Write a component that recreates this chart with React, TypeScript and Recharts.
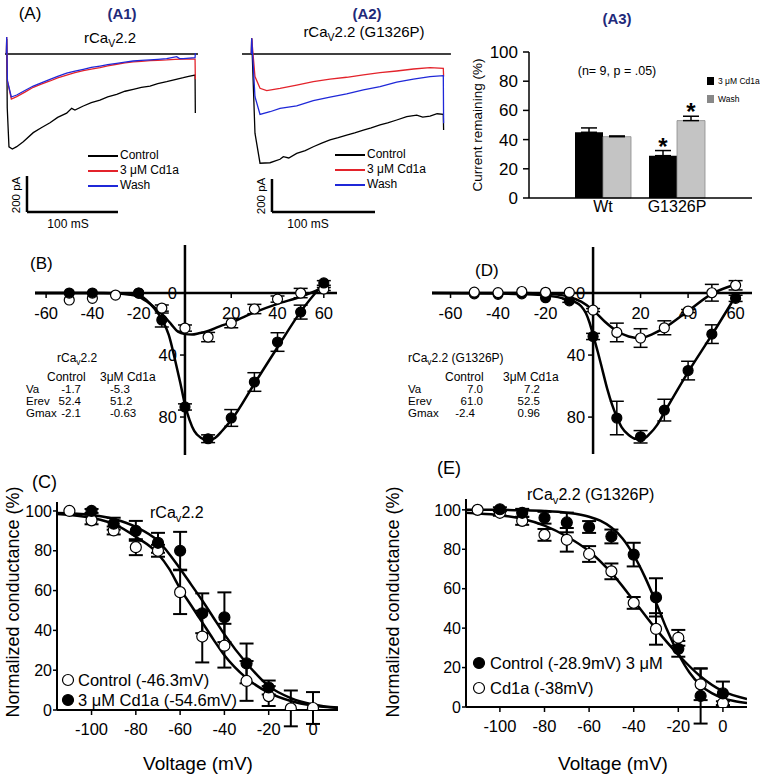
import React from "react";
import {
  ComposedChart,
  LineChart,
  Line,
  Scatter,
  ErrorBar,
  XAxis,
  YAxis,
  ReferenceLine,
  ReferenceDot,
  BarChart,
  Bar,
} from "recharts";

const FONT = '"Liberation Sans", Arial, Helvetica, sans-serif';
const NAVY = "#1f2a7a";
const RED = "#e3232b";
const BLUE = "#1f28d8";

// (A1) rCaV2.2 traces, [ms, pA]
const A1_CONTROL = [[-0.3, 0], [0, 83], [0.6, -300], [2.5, -516], [6.2, -528], [11, -515], [18.2, -487], [29.2, -437], [38, -410], [47.6, -382], [56, -352], [65.9, -329], [71.4, -302], [75, -311], [84.2, -289], [93, -270], [102.5, -256], [111, -238], [120.9, -224], [130, -207], [139.1, -196], [148, -186], [157.5, -178], [166, -165], [175.8, -154], [185, -142], [194.1, -132], [200, -124], [207, -117], [207.3, -328]];
const A1_CD1A = [[-0.3, 0], [0, 94], [0.8, -150], [5.1, -250], [11, -237], [20, -212], [29.2, -185], [38, -168], [47.6, -150], [56, -133], [65.9, -117], [75, -104], [84.2, -93], [93, -84], [102.5, -76], [111, -66], [120.9, -57], [130, -50], [139.1, -44], [148, -41], [157.5, -37], [166, -35], [175.8, -33], [185, -30], [194.1, -28], [207, -29], [207.3, -140]];
const A1_WASH = [[-0.3, 0], [0, 94], [0.8, -150], [5.1, -239], [11, -228], [20, -203], [29.2, -178], [38, -160], [47.6, -141], [56, -124], [65.9, -107], [75, -95], [84.2, -85], [93, -75], [102.5, -67], [111, -59], [120.9, -52], [130, -45], [139.1, -39], [148, -36], [157.5, -33], [166, -30], [175.8, -26], [186.8, -15], [190, -26], [194.1, -26], [207, -21], [207.3, 5]];

// (A2) rCaV2.2 (G1326P) traces, [ms, pA]
const A2_CONTROL = [[-0.3, 0], [0, 95], [3.2, -480], [8.1, -662], [17.8, -659], [27.5, -638], [30.7, -622], [36, -630], [43.7, -602], [52, -585], [59.8, -562], [68, -540], [76, -521], [84, -507], [92.2, -491], [100, -478], [108.4, -461], [116, -448], [124.6, -430], [132, -418], [140.8, -400], [150.5, -380], [160.2, -370], [166, -382], [173.1, -376], [180, -362], [186, -366], [186.3, -461]];
const A2_CD1A = [[-0.3, 0], [0, 95], [3.2, -137], [8.1, -208], [14.6, -222], [27.5, -208], [43.7, -188], [59.8, -168], [76, -152], [92.2, -141], [108.4, -127], [124.6, -113], [140.8, -103], [157, -91], [173.1, -83], [186, -87], [186.3, -137]];
const A2_WASH = [[-0.3, 0], [0, 95], [3.2, -259], [8.1, -366], [17.8, -350], [27.5, -329], [43.7, -315], [59.8, -283], [76, -262], [92.2, -242], [108.4, -218], [124.6, -198], [140.8, -171], [157, -152], [173.1, -137], [186, -131], [186.3, -420]];

// (A3) current remaining (%)
const A3_GROUPS = ["Wt", "G1326P"];
const A3_CD1A = [45, 29];
const A3_WASH = [42, 53];
const A3_CD1A_ERR = [3, 3.5];
const A3_WASH_ERR = [0.5, 3];
const A3_CD1A_STAR = [false, true];
const A3_WASH_STAR = [false, true];

// (B) I-V rCaV2.2, [mV, % current, err]
const B_CONTROL = [[-50, 0, 0], [-40, 0, 0], [-20, 0, 0], [-10, 17.4, 4.5], [0, 73.5, 2], [10, 94, 2.5], [20, 80.6, 5.4], [30, 57.4, 6], [40, 31.6, 6], [50, 12.3, 4.5], [60, -6.5, 1.5]];
const B_CD1A = [[-50, 4.5, 0], [-40, 3.4, 0], [-30, 1.3, 0], [-20, 0, 0], [-10, 9.7, 2], [0, 22.6, 2], [10, 28.4, 3], [20, 19.4, 3], [30, 10.3, 3], [40, 3.9, 2], [50, 0, 3], [60, -2.6, 1]];
const B_CONTROL_FIT = [[-64.8, 0], [-40, 0], [-30, 0.2], [-25, 0.6], [-20, 1.3], [-15, 7], [-10, 17], [-7, 27], [-4, 45], [-2, 58], [0, 72], [2, 82], [4, 89], [7, 93.5], [10, 95], [13, 93.5], [16, 89], [20, 82], [30, 58.5], [40, 35], [50, 12], [60, -6.5]];
const B_CD1A_FIT = [[-64.8, 0], [-35, 0], [-25, 0.8], [-20, 2.4], [-15, 7], [-10, 13.5], [-6, 20], [-3, 25], [0, 26.5], [3, 26.8], [6, 26], [10, 24.5], [15, 21.5], [20, 19], [30, 12.5], [40, 7], [50, 2.4], [60, -3.7]];

// (D) I-V rCaV2.2 (G1326P)
const D_CONTROL = [[-50, 0.5, 0], [-40, 0.8, 0], [-30, 0.5, 0], [-20, 3, 0], [-10, 5, 1], [0, 28, 2], [10, 80.6, 10.8], [20, 92.7, 4], [30, 75.5, 7], [40, 50, 6], [50, 26.5, 6], [60, 3.4, 2]];
const D_CD1A = [[-50, -0.6, 0], [-40, -0.3, 0], [-30, -1, 0], [-20, -0.5, 0], [-10, -0.4, 0], [0, 11, 1], [10, 25.4, 6], [20, 29, 6], [30, 22.4, 4.5], [40, 11.6, 1], [50, -0.2, 5.4], [60, -5, 3]];
const D_CONTROL_FIT = [[-67.8, 0], [-40, 0.3], [-30, 0.7], [-20, 1.5], [-10, 4.5], [-8, 5.5], [-5, 8.5], [-3, 13], [-1.5, 19], [0, 27], [2, 38], [4, 50], [6, 62], [8, 72], [10, 80], [12, 86.5], [15, 91.5], [18, 94], [21, 94], [24, 90.5], [27, 85], [30, 77], [40, 51], [50, 27], [60, 2]];
const D_CD1A_FIT = [[-67.8, 0], [-30, 0], [-20, 0.3], [-15, 1], [-10, 2.5], [-5, 5.5], [0, 11], [5, 18.5], [10, 24.5], [15, 28], [20, 29], [25, 26.5], [30, 22.5], [40, 11.5], [50, 0.5], [60, -5.5]];

// (C) conductance rCaV2.2
const C_CONTROL = [[-110, 100, 0], [-100, 95.3, 2], [-90, 90.2, 2], [-80, 81.8, 4], [-70, 80, 3], [-60, 59.2, 11], [-50, 36.9, 13], [-40, 32.3, 11], [-30, 14.6, 10], [-20, 7, 5], [-10, 0.8, 9], [0, 1, 8]];
const C_CD1A = [[-100, 100, 1], [-90, 93.6, 3], [-80, 90, 5], [-70, 84, 5], [-60, 80, 9.5], [-50, 48.6, 10], [-40, 46.6, 12.5], [-30, 23.4, 10], [-20, 11.3, 3.5]];
const C_CONTROL_FIT = [[-115.6, 98.5], [-100, 96.5], [-90, 93.5], [-80, 87], [-70, 78.5], [-65, 71], [-60, 61], [-55, 52.5], [-50, 44], [-45, 35.5], [-40, 27.5], [-30, 16], [-20, 8.7], [-10, 4.5], [0, 2.2], [11.3, 1]];
const C_CD1A_FIT = [[-115.6, 99], [-100, 98], [-90, 96], [-80, 92], [-70, 85], [-60, 71], [-55, 63], [-50, 55], [-45, 46.5], [-40, 38], [-30, 23.5], [-20, 12], [-10, 6], [0, 2.8], [11.3, 1.2]];

// (E) conductance rCaV2.2 (G1326P)
const E_CONTROL = [[-100, 100.3, 1], [-90, 98.5, 2], [-80, 96, 3], [-70, 93.6, 5], [-60, 91.3, 3], [-50, 86.5, 3.5], [-40, 77.3, 6], [-30, 55.6, 9.7], [-20, 29.5, 4], [-10, 5.6, 14], [0, 6.9, 6]];
const E_CD1A = [[-110, 100, 0], [-100, 98.5, 1.5], [-90, 94.4, 2], [-80, 87.3, 3], [-70, 84.8, 6], [-60, 77.6, 4], [-50, 68.8, 4], [-40, 52.8, 3], [-30, 39.6, 8], [-20, 35.1, 4], [-10, 11.5, 8], [0, 1.9, 1]];
const E_CONTROL_FIT = [[-115.2, 100], [-100, 100], [-90, 99.8], [-80, 99.4], [-70, 98.5], [-60, 96.5], [-55, 94.5], [-50, 91], [-45, 85.5], [-40, 77], [-35, 66], [-30, 53], [-25, 39], [-20, 27], [-15, 17.5], [-10, 11], [-5, 7], [0, 4.5], [5, 3], [10.8, 2]];
const E_CD1A_FIT = [[-115.2, 98.5], [-110, 98.2], [-100, 97.3], [-90, 95.5], [-80, 92], [-70, 86.5], [-60, 79], [-50, 68], [-40, 54], [-30, 39.5], [-20, 26.5], [-10, 15.5], [0, 8], [10.8, 4]];

const IV_XTICKS = [-60, -40, -20, 20, 40, 60];
const IV_YTICKS = [0, 40, 80];
const G_XTICKS = [-100, -80, -60, -40, -20, 0];
const G_YTICKS = [0, 20, 40, 60, 80, 100];

const SCALE_MS = 100;
const SCALE_PA = 200;

const xy = (arr: number[][]) => arr.map(([x, y]) => ({ x, y }));
const xye = (arr: number[][]) => arr.map(([x, y, e]) => ({ x, y, e }));

function Txt({ x, y, size = 12, align = "left", bold, color = "#000", rotate, children }: any) {
  const tx = rotate ? "-50%" : align === "left" ? "0" : align === "center" ? "-50%" : "-100%";
  return (
    <div
      style={{
        position: "absolute",
        left: x,
        top: y,
        fontSize: size,
        fontWeight: bold ? 700 : 400,
        color,
        whiteSpace: "nowrap",
        lineHeight: 1,
        transform: `translate(${tx},-50%)${rotate ? " rotate(-90deg)" : ""}`,
      }}
    >
      {children}
    </div>
  );
}

const Sub = ({ children }: any) => (
  <span style={{ fontSize: "0.7em", position: "relative", top: "0.35em" }}>{children}</span>
);

function Abs({ left, top, children }: any) {
  return <div style={{ position: "absolute", left, top }}>{children}</div>;
}

const dot = (fill: string, r: number) => (p: any) => (
  <circle cx={p.cx} cy={p.cy} r={r} fill={fill} stroke="#000" strokeWidth={1.2} />
);

const xTick = (v: number) => (p: any) => (
  <g>
    <line x1={p.cx} y1={p.cy} x2={p.cx} y2={p.cy + 5} stroke="#000" strokeWidth={1.5} />
    <text x={p.cx} y={p.cy + 20} textAnchor="middle" dominantBaseline="central" fontSize={16.5} fill="#000">
      {v}
    </text>
  </g>
);

const yTick = (v: number) => (p: any) => (
  <g>
    <line x1={p.cx - 5} y1={p.cy} x2={p.cx} y2={p.cy} stroke="#000" strokeWidth={1.5} />
    <text x={p.cx - 8} y={p.cy} textAnchor="end" dominantBaseline="central" fontSize={16.5} fill="#000">
      {v}
    </text>
  </g>
);

function Traces({ control, cd1a, wash, xDomain, yDomain, base, bar }: any) {
  return (
    <LineChart width={235} height={210} margin={{ top: 0, right: 0, bottom: 0, left: 0 }}>
      <XAxis type="number" dataKey="x" domain={xDomain} hide allowDataOverflow />
      <YAxis type="number" domain={yDomain} hide allowDataOverflow />
      <ReferenceLine segment={[{ x: base[0], y: 0 }, { x: base[1], y: 0 }]} stroke="#000" strokeWidth={1.5} />
      <ReferenceLine segment={[{ x: bar.t, y: bar.i }, { x: bar.t, y: bar.i + SCALE_PA }]} stroke="#000" strokeWidth={2.5} />
      <ReferenceLine segment={[{ x: bar.t, y: bar.i }, { x: bar.t + SCALE_MS, y: bar.i }]} stroke="#000" strokeWidth={2.5} />
      <Line data={xy(control)} dataKey="y" type="linear" stroke="#000" strokeWidth={1.3} dot={false} isAnimationActive={false} />
      <Line data={xy(cd1a)} dataKey="y" type="linear" stroke={RED} strokeWidth={1.3} dot={false} isAnimationActive={false} />
      <Line data={xy(wash)} dataKey="y" type="linear" stroke={BLUE} strokeWidth={1.3} dot={false} isAnimationActive={false} />
    </LineChart>
  );
}

function TraceLegend({ x, y }: any) {
  const items = [["Control", "#000"], ["3 \u03bcM Cd1a", RED], ["Wash", BLUE]];
  return (
    <>
      {items.map(([name, c], i) => (
        <React.Fragment key={name}>
          <div style={{ position: "absolute", left: x, top: y + i * 15, width: 30, height: 1.5, background: c }} />
          <Txt x={x + 32} y={y + i * 15} size={12}>{name}</Txt>
        </React.Fragment>
      ))}
    </>
  );
}

function IvPanel({ margin, width, xDomain, yDomain, control, cd1a, controlFit, cd1aFit, openOnTop }: any) {
  const openS = (
    <Scatter key="o" data={xye(cd1a)} dataKey="y" shape={dot("#fff", 5)} isAnimationActive={false}>
      <ErrorBar dataKey="e" direction="y" width={7} stroke="#000" strokeWidth={1.5} />
    </Scatter>
  );
  const filledS = (
    <Scatter key="f" data={xye(control)} dataKey="y" shape={dot("#000", 5)} isAnimationActive={false}>
      <ErrorBar dataKey="e" direction="y" width={7} stroke="#000" strokeWidth={1.5} />
    </Scatter>
  );
  return (
    <ComposedChart width={width} height={220} margin={margin}>
      <XAxis type="number" dataKey="x" domain={xDomain} hide allowDataOverflow />
      <YAxis type="number" domain={yDomain} reversed hide allowDataOverflow />
      <ReferenceLine y={0} stroke="#000" strokeWidth={2.5} />
      <ReferenceLine x={0} stroke="#000" strokeWidth={2.5} />
      {IV_XTICKS.map((v) => (
        <ReferenceDot key={"x" + v} x={v} y={0} r={0} shape={xTick(v)} />
      ))}
      {IV_YTICKS.map((v) => (
        <ReferenceDot key={"y" + v} x={0} y={v} r={0} shape={yTick(v)} />
      ))}
      <Line data={xy(controlFit)} dataKey="y" type="monotone" stroke="#000" strokeWidth={2.5} dot={false} isAnimationActive={false} />
      <Line data={xy(cd1aFit)} dataKey="y" type="monotone" stroke="#000" strokeWidth={2.5} dot={false} isAnimationActive={false} />
      {openOnTop ? [filledS, openS] : [openS, filledS]}
    </ComposedChart>
  );
}

function GPanel({ xDomain, yDomain, height, control, cd1a, controlFit, cd1aFit }: any) {
  return (
    <ComposedChart width={345} height={height} margin={{ top: 7, right: 7, bottom: 0, left: 0 }}>
      <XAxis
        type="number"
        dataKey="x"
        domain={xDomain}
        ticks={G_XTICKS}
        allowDataOverflow
        height={height - 7 - 208}
        axisLine={{ stroke: "#000", strokeWidth: 2 }}
        tickLine={{ stroke: "#000", strokeWidth: 1.5 }}
        tickSize={5}
        tickMargin={8}
        tick={{ fontSize: 16.5, fill: "#000" }}
      />
      <YAxis
        type="number"
        domain={yDomain}
        ticks={G_YTICKS}
        allowDataOverflow
        width={57}
        axisLine={{ stroke: "#000", strokeWidth: 2 }}
        tickLine={{ stroke: "#000", strokeWidth: 1.5 }}
        tickSize={4}
        tickMargin={1}
        tick={{ fontSize: 16, fill: "#000" }}
      />
      <Scatter data={xye(cd1a)} dataKey="y" shape={dot("#fff", 5.5)} isAnimationActive={false}>
        <ErrorBar dataKey="e" direction="y" width={7} stroke="#000" strokeWidth={2} />
      </Scatter>
      <Scatter data={xye(control)} dataKey="y" shape={dot("#000", 5.5)} isAnimationActive={false}>
        <ErrorBar dataKey="e" direction="y" width={7} stroke="#000" strokeWidth={2} />
      </Scatter>
      <Line data={xy(controlFit)} dataKey="y" type="monotone" stroke="#000" strokeWidth={2.5} dot={false} isAnimationActive={false} />
      <Line data={xy(cd1aFit)} dataKey="y" type="monotone" stroke="#000" strokeWidth={2.5} dot={false} isAnimationActive={false} />
    </ComposedChart>
  );
}

const Marker = ({ x, y, fill }: any) => (
  <svg style={{ position: "absolute", left: x - 7, top: y - 7 }} width={14} height={14}>
    <circle cx={7} cy={7} r={5.5} fill={fill} stroke="#000" strokeWidth={1.2} />
  </svg>
);

const star = (flags: boolean[], errs: number[]) => (p: any) => {
  if (!flags[p.index]) return null;
  const top = p.y - errs[p.index] * 1.46;
  return (
    <text x={p.x + p.width / 2} y={top + 4} textAnchor="middle" fontSize={24} fontWeight={700} fill="#000">
      *
    </text>
  );
};

// table rows: label column + two value columns
function ParamTable({ x, title, head, rows }: any) {
  return (
    <>
      <Txt x={title[0]} y={358} size={12}>{title[1]}</Txt>
      <Txt x={head[0]} y={377} size={12}>Control</Txt>
      <Txt x={head[1]} y={377} size={12}>3{"\u03bc"}M Cd1a</Txt>
      {rows.map((r: any, i: number) => (
        <React.Fragment key={r[0]}>
          <Txt x={x} y={389.5 + i * 12} size={11.5}>{r[0]}</Txt>
          <Txt x={r[1][0]} y={389.5 + i * 12} size={11.5} align={r[1][2]}>{r[1][1]}</Txt>
          <Txt x={r[2][0]} y={389.5 + i * 12} size={11.5} align={r[2][2]}>{r[2][1]}</Txt>
        </React.Fragment>
      ))}
    </>
  );
}

export default function App() {
  const barData = A3_GROUPS.map((g, i) => ({
    g,
    cd: A3_CD1A[i],
    wash: A3_WASH[i],
    cdErr: [0, A3_CD1A_ERR[i]],
    washErr: [0, A3_WASH_ERR[i]],
  }));

  return (
    <div style={{ position: "absolute", left: 0, top: 0, width: 760, height: 775, background: "#fff", fontFamily: FONT, overflow: "hidden" }}>
      {/* A1 */}
      <Abs left={0} top={25}>
        <Traces control={A1_CONTROL} cd1a={A1_CD1A} wash={A1_WASH} xDomain={[-7.36, 250.9]} yDomain={[-1005.6, 161]} base={[-1.9, 210.2]} bar={{ t: 22.3, i: -878 }} />
      </Abs>
      <Txt x={30} y={13} size={17} align="center">(A)</Txt>
      <Txt x={122} y={13} size={15} align="center" bold color={NAVY}>(A1)</Txt>
      <Txt x={110} y={37} size={15} align="center">rCa<Sub>V</Sub>2.2</Txt>
      <TraceLegend x={88} y={155} />
      <Txt x={17} y={195} size={11.5} rotate>200 pA</Txt>
      <Txt x={68} y={224} size={12} align="center">100 mS</Txt>

      {/* A2 */}
      <Abs left={232} top={25}>
        <Traces control={A2_CONTROL} cd1a={A2_CD1A} wash={A2_WASH} xDomain={[-19.1, 209]} yDomain={[-1097, 175.8]} base={[-9.4, 193.4]} bar={{ t: 19.7, i: -957.6 }} />
      </Abs>
      <Txt x={367} y={13} size={15} align="center" bold color={NAVY}>(A2)</Txt>
      <Txt x={364} y={31} size={15} align="center">rCa<Sub>V</Sub>2.2 (G1326P)</Txt>
      <TraceLegend x={335} y={154} />
      <Txt x={262} y={196} size={11.5} rotate>200 pA</Txt>
      <Txt x={308} y={224} size={12} align="center">100 mS</Txt>

      {/* A3 */}
      <Abs left={470} top={40}>
        <BarChart width={290} height={190} data={barData} margin={{ top: 12, right: 8, bottom: 7, left: 0 }} barGap={0}>
          <XAxis dataKey="g" padding={{ left: 37, right: 38 }} tickLine={false} tickSize={0} tickMargin={3} height={25} axisLine={{ stroke: "#000", strokeWidth: 1.5 }} tick={{ fontSize: 16, fill: "#000" }} />
          <YAxis type="number" domain={[0, 100]} ticks={G_YTICKS} width={59} tickSize={6} tickMargin={5} axisLine={{ stroke: "#000", strokeWidth: 1.5 }} tickLine={{ stroke: "#000", strokeWidth: 1.5 }} tick={{ fontSize: 17, fill: "#000" }} />
          <Bar dataKey="cd" fill="#000" barSize={28} isAnimationActive={false} label={star(A3_CD1A_STAR, A3_CD1A_ERR)}>
            <ErrorBar dataKey="cdErr" direction="y" width={8} stroke="#000" strokeWidth={1.5} />
          </Bar>
          <Bar dataKey="wash" fill="#c4c4c4" stroke="#8a8a8a" strokeWidth={0.8} barSize={28} isAnimationActive={false} label={star(A3_WASH_STAR, A3_WASH_ERR)}>
            <ErrorBar dataKey="washErr" direction="y" width={8} stroke="#000" strokeWidth={1.5} />
          </Bar>
        </BarChart>
      </Abs>
      <Txt x={617} y={18} size={15} align="center" bold color={NAVY}>(A3)</Txt>
      <Txt x={617} y={71} size={12.5} align="center">(n= 9, p = .05)</Txt>
      <div style={{ position: "absolute", left: 707, top: 77, width: 7, height: 8, background: "#000" }} />
      <Txt x={718} y={81} size={8.5}>3 {"\u03bc"}M Cd1a</Txt>
      <div style={{ position: "absolute", left: 707, top: 95, width: 7, height: 8, background: "#888" }} />
      <Txt x={718} y={99} size={8.5}>Wash</Txt>
      <Txt x={478} y={125} size={13.5} rotate>Current remaining (%)</Txt>

      {/* B */}
      <Abs left={0} top={240}>
        <IvPanel width={345} margin={{ top: 5, right: 8, bottom: 5, left: 35 }} xDomain={[-64.8, 65.7]} yDomain={[-31, 104.5]} control={B_CONTROL} cd1a={B_CD1A} controlFit={B_CONTROL_FIT} cd1aFit={B_CD1A_FIT} />
      </Abs>
      <Txt x={30} y={263} size={17}>(B)</Txt>
      <ParamTable
        x={26}
        title={[57, <>rCa<Sub>v</Sub>2.2</>]}
        head={[47, 100]}
        rows={[
          ["Va", [81, "-1.7", "right"], [110, "-5.3", "left"]],
          ["Erev", [81, "52.4", "right"], [110, "51.2", "left"]],
          ["Gmax", [81, "-2.1", "right"], [110, "-0.63", "left"]],
        ]}
      />

      {/* D */}
      <Abs left={380} top={240}>
        <IvPanel width={380} margin={{ top: 7, right: 8, bottom: 6, left: 52 }} xDomain={[-67.8, 66.9]} yDomain={[-29.7, 103.8]} control={D_CONTROL} cd1a={D_CD1A} controlFit={D_CONTROL_FIT} cd1aFit={D_CD1A_FIT} openOnTop />
      </Abs>
      <Txt x={475} y={270} size={17}>(D)</Txt>
      <ParamTable
        x={408}
        title={[408, <>rCa<Sub>v</Sub>2.2 (G1326P)</>]}
        head={[445, 503]}
        rows={[
          ["Va", [483, "7.0", "right"], [540, "7.2", "right"]],
          ["Erev", [483, "61.0", "right"], [540, "52.5", "right"]],
          ["Gmax", [475, "-2.4", "right"], [540, "0.96", "right"]],
        ]}
      />

      {/* C */}
      <Abs left={0} top={495}>
        <GPanel height={255} xDomain={[-115.6, 11.3]} yDomain={[0, 104.5]} control={C_CD1A} cd1a={C_CONTROL} controlFit={C_CD1A_FIT} cd1aFit={C_CONTROL_FIT} />
      </Abs>
      <Txt x={32} y={482} size={18}>(C)</Txt>
      <Txt x={150} y={513} size={16}>rCa<Sub>v</Sub>2.2</Txt>
      <Marker x={68} y={680} fill="#fff" />
      <Txt x={78} y={680} size={16.5}>Control (-46.3mV)</Txt>
      <Marker x={68} y={700} fill="#000" />
      <Txt x={78} y={700} size={16.5}>3 {"\u03bc"}M Cd1a (-54.6mV)</Txt>
      <Txt x={13} y={602} size={18} rotate>Normalized conductance (%)</Txt>
      <Txt x={198} y={763} size={19} align="center">Voltage (mV)</Txt>

      {/* E */}
      <Abs left={409} top={492}>
        <GPanel height={258} xDomain={[-115.2, 10.8]} yDomain={[0, 105.5]} control={E_CONTROL} cd1a={E_CD1A} controlFit={E_CONTROL_FIT} cd1aFit={E_CD1A_FIT} />
      </Abs>
      <Txt x={437} y={468} size={18}>(E)</Txt>
      <Txt x={527} y={495} size={16}>rCa<Sub>v</Sub>2.2 (G1326P)</Txt>
      <Marker x={479} y={663} fill="#000" />
      <Txt x={490} y={663} size={16.5}>Control (-28.9mV) 3 {"\u03bc"}M</Txt>
      <Marker x={479} y={688} fill="#fff" />
      <Txt x={490} y={688} size={16.5}>Cd1a (-38mV)</Txt>
      <Txt x={393} y={602} size={18} rotate>Normalized conductance (%)</Txt>
      <Txt x={613} y={763} size={19} align="center">Voltage (mV)</Txt>
    </div>
  );
}
